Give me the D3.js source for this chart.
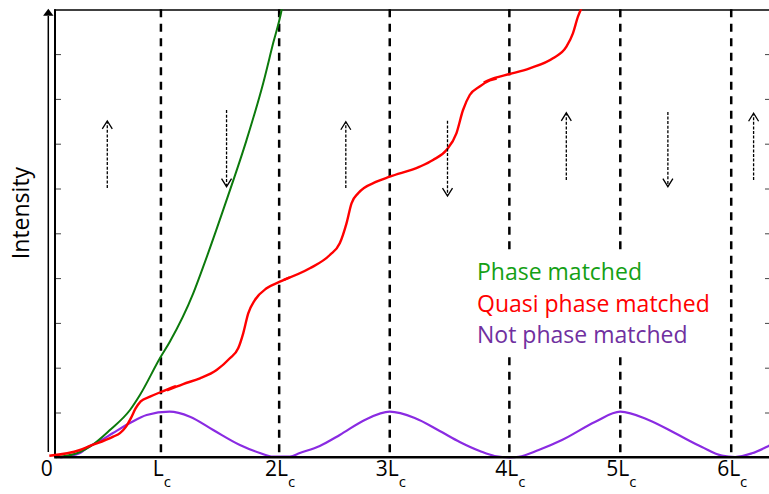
<!DOCTYPE html>
<html>
<head>
<meta charset="utf-8">
<script src="https://cdn.jsdelivr.net/npm/d3@7"></script>
<style>
  html, body { margin: 0; padding: 0; background: #fff; }
  svg { display: block; font-family: "Open Sans", sans-serif; }
</style>
</head>
<body>
<svg id="chart" width="769" height="494"></svg>
<script>
// ---- Data (x in units of Lc, y in arbitrary intensity units) ----
const boundaryPos = [0.922, 1.958, 2.927, 3.975, 4.947, 5.919];
const boundaryLabels = ["L", "2L", "3L", "4L", "5L", "6L"];
const yTicks = [1, 2, 3, 4, 5, 6, 7, 8, 9];

const phaseMatched = [
  [0, 0], [0.213, 0.118], [0.300, 0.237], [0.475, 0.609], [0.651, 1.056],
  [0.738, 1.391], [0.913, 2.21], [1.0, 2.58], [1.205, 3.66], [1.292, 4.25],
  [1.497, 5.74], [1.672, 7.08], [1.818, 8.35], [1.905, 9.24], [1.979, 9.98], [1.995, 10.2]
];

const qpmPiece1 = [
  [-0.056, 0.036], [0.213, 0.163], [0.285, 0.237], [0.504, 0.46], [0.563, 0.54],
  [0.615, 0.68], [0.66, 0.88], [0.70, 1.09], [0.745, 1.25], [0.826, 1.353],
  [0.922, 1.458], [1.0, 1.54], [1.053, 1.592]
];
const qpmPiece2 = [
  [0.975, 1.496], [1.117, 1.636], [1.264, 1.763], [1.41, 1.949], [1.526, 2.21],
  [1.599, 2.433], [1.643, 2.768], [1.687, 3.214], [1.745, 3.511], [1.848, 3.772],
  [1.964, 3.92], [2.052, 4.018]
];
const qpmPiece3 = [
  [1.999, 3.962], [2.227, 4.219], [2.402, 4.516], [2.489, 4.777], [2.548, 5.223],
  [2.592, 5.67], [2.65, 5.893], [2.811, 6.152], [2.927, 6.263], [3.19, 6.487],
  [3.306, 6.636], [3.424, 6.859], [3.511, 7.232], [3.569, 7.752], [3.628, 8.087],
  [3.715, 8.277], [3.803, 8.411], [3.864, 8.455]
];
const qpmPiece4 = [
  [3.75, 8.366], [3.847, 8.467], [3.978, 8.556], [4.153, 8.683], [4.357, 8.906],
  [4.475, 9.165], [4.532, 9.464], [4.576, 9.835], [4.62, 10.096]
];

const notPhaseMatched = [
  [0.04, 0.0], [0.213, 0.096], [0.283, 0.23], [0.388, 0.364], [0.502, 0.542],
  [0.651, 0.766], [0.797, 0.944], [0.998, 1.018], [1.176, 0.906], [1.38, 0.609],
  [1.614, 0.275], [1.789, 0.096], [1.905, 0.013], [2.052, 0.018], [2.139, 0.096],
  [2.314, 0.252], [2.489, 0.498], [2.708, 0.833], [2.927, 1.018], [3.146, 0.877],
  [3.365, 0.587], [3.54, 0.342], [3.715, 0.141], [3.846, 0.029], [3.978, 0.0],
  [4.057, 0.013], [4.232, 0.163], [4.436, 0.386], [4.729, 0.795], [4.947, 1.018],
  [5.195, 0.833], [5.429, 0.536], [5.662, 0.23], [5.837, 0.036], [5.954, 0.007],
  [6.1, 0.089], [6.246, 0.252], [6.3, 0.32]
];

// domain flip arrows: x position, start y, end (tip) y
const flipArrows = [
  { x: 0.452, from: 6.01, to: 7.51 },
  { x: 1.497, from: 7.75, to: 6.04 },
  { x: 2.542, from: 6.01, to: 7.49 },
  { x: 3.433, from: 7.51, to: 5.83 },
  { x: 4.474, from: 6.19, to: 7.69 },
  { x: 5.364, from: 7.71, to: 6.04 },
  { x: 6.115, from: 6.19, to: 7.68 }
];

const legendItems = [
  { text: "Phase matched", color: "#14a014" },
  { text: "Quasi phase matched", color: "#ff0000" },
  { text: "Not phase matched", color: "#7030a0" }
];

// ---- Scales ----
const svg = d3.select("#chart");
const x = d3.scaleLinear().domain([0, 6.25]).range([55.7, 769]);
const y = d3.scaleLinear().domain([0, 10]).range([457.3, 9.3]);

const line = d3.line().x(d => x(d[0])).y(d => y(d[1])).curve(d3.curveMonotoneX);

svg.append("defs").append("clipPath").attr("id", "plotclip")
  .append("rect").attr("x", 0).attr("y", y(10)).attr("width", 769).attr("height", y(0) - y(10) + 3);

// ---- Dashed boundary lines ----
svg.append("g").selectAll("line").data(boundaryPos).join("line")
  .attr("x1", d => x(d)).attr("x2", d => x(d))
  .attr("y1", y(10)).attr("y2", y(0))
  .attr("stroke", "#000").attr("stroke-width", 2.5)
  .attr("stroke-dasharray", "8,6.5");

// ---- Axes ----
svg.append("g").attr("transform", `translate(${x(0) - 0.7},0)`)
  .call(d3.axisRight(y).tickValues(yTicks).tickSize(6).tickFormat(""))
  .call(g => g.select(".domain").remove())
  .call(g => g.selectAll(".tick line").attr("stroke", "#444").attr("stroke-width", 1));
svg.append("g").attr("transform", `translate(771,0)`)
  .call(d3.axisLeft(y).tickValues(yTicks).tickSize(6).tickFormat(""))
  .call(g => g.select(".domain").remove())
  .call(g => g.selectAll(".tick line").attr("stroke", "#444").attr("stroke-width", 1));

svg.append("line").attr("x1", x(0) - 0.7).attr("x2", x(0) - 0.7)
  .attr("y1", y(10)).attr("y2", y(0))
  .attr("stroke", "#000").attr("stroke-width", 2);
svg.append("line").attr("x1", x(0) - 1.5).attr("x2", 769)
  .attr("y1", y(10) + 0.7).attr("y2", y(10) + 0.7)
  .attr("stroke", "#000").attr("stroke-width", 1.5);

// intensity arrow
svg.append("line").attr("x1", 48.3).attr("x2", 48.3)
  .attr("y1", y(9.85)).attr("y2", y(0.12))
  .attr("stroke", "#000").attr("stroke-width", 1.5);
svg.append("path")
  .attr("d", `M48.3,${y(10) - 0.5} L53.5,${y(10) + 6.5} L43.1,${y(10) + 6.5} Z`)
  .attr("fill", "#000");

// ---- Curves ----
const curves = svg.append("g").attr("clip-path", "url(#plotclip)");
curves.append("path").datum(notPhaseMatched).attr("d", line)
  .attr("fill", "none").attr("stroke", "#8a2be2").attr("stroke-width", 2.2);
curves.append("path").datum(phaseMatched).attr("d", line)
  .attr("fill", "none").attr("stroke", "#0c7a0c").attr("stroke-width", 2);
[qpmPiece1, qpmPiece2, qpmPiece3, qpmPiece4].forEach(p => {
  curves.append("path").datum(p).attr("d", line)
    .attr("fill", "none").attr("stroke", "#ff0000").attr("stroke-width", 2.4);
});

svg.append("line").attr("x1", x(0) - 1.5).attr("x2", 769)
  .attr("y1", y(0)).attr("y2", y(0))
  .attr("stroke", "#000").attr("stroke-width", 2.6);

// ---- Flip arrows ----
const ag = svg.append("g").attr("stroke", "#000").attr("fill", "none").attr("stroke-width", 1.3);
flipArrows.forEach(a => {
  const ax = x(a.x), y0 = y(a.from), y1 = y(a.to);
  const dir = y1 < y0 ? 1 : -1;
  ag.append("line").attr("x1", ax).attr("x2", ax).attr("y1", y0).attr("y2", y1 + dir * 1)
    .attr("stroke-dasharray", "3,1.6");
  ag.append("path")
    .attr("d", `M${ax - 5},${y1 + dir * 8} L${ax},${y1} L${ax + 5},${y1 + dir * 8}`);
});

// ---- Tick labels ----
const tl = svg.append("g").attr("font-size", 21).attr("fill", "#000").attr("text-anchor", "middle");
tl.append("text").attr("x", x(0) - 9).attr("y", 475.5).text("0");
boundaryPos.forEach((p, i) => {
  const t = tl.append("text").attr("x", x(p) + 1).attr("y", 475.5);
  t.append("tspan").text(boundaryLabels[i]);
  t.append("tspan").attr("font-size", 15).attr("dy", 11).text("c");
});

// ---- Y label ----
svg.append("text")
  .attr("transform", `translate(29,213) rotate(-90)`)
  .attr("text-anchor", "middle").attr("font-size", 23)
  .text("Intensity");

// ---- Legend (with white background covering the dashed lines) ----
const lg = svg.append("g");
lg.append("rect").attr("x", 470).attr("y", 254).attr("width", 246).attr("height", 98).attr("fill", "#fff");
lg.selectAll("text").data(legendItems).join("text")
  .attr("x", 477).attr("y", (d, i) => [280, 312, 343][i])
  .attr("font-size", 23).attr("fill", d => d.color)
  .text(d => d.text);
</script>
</body>
</html>
